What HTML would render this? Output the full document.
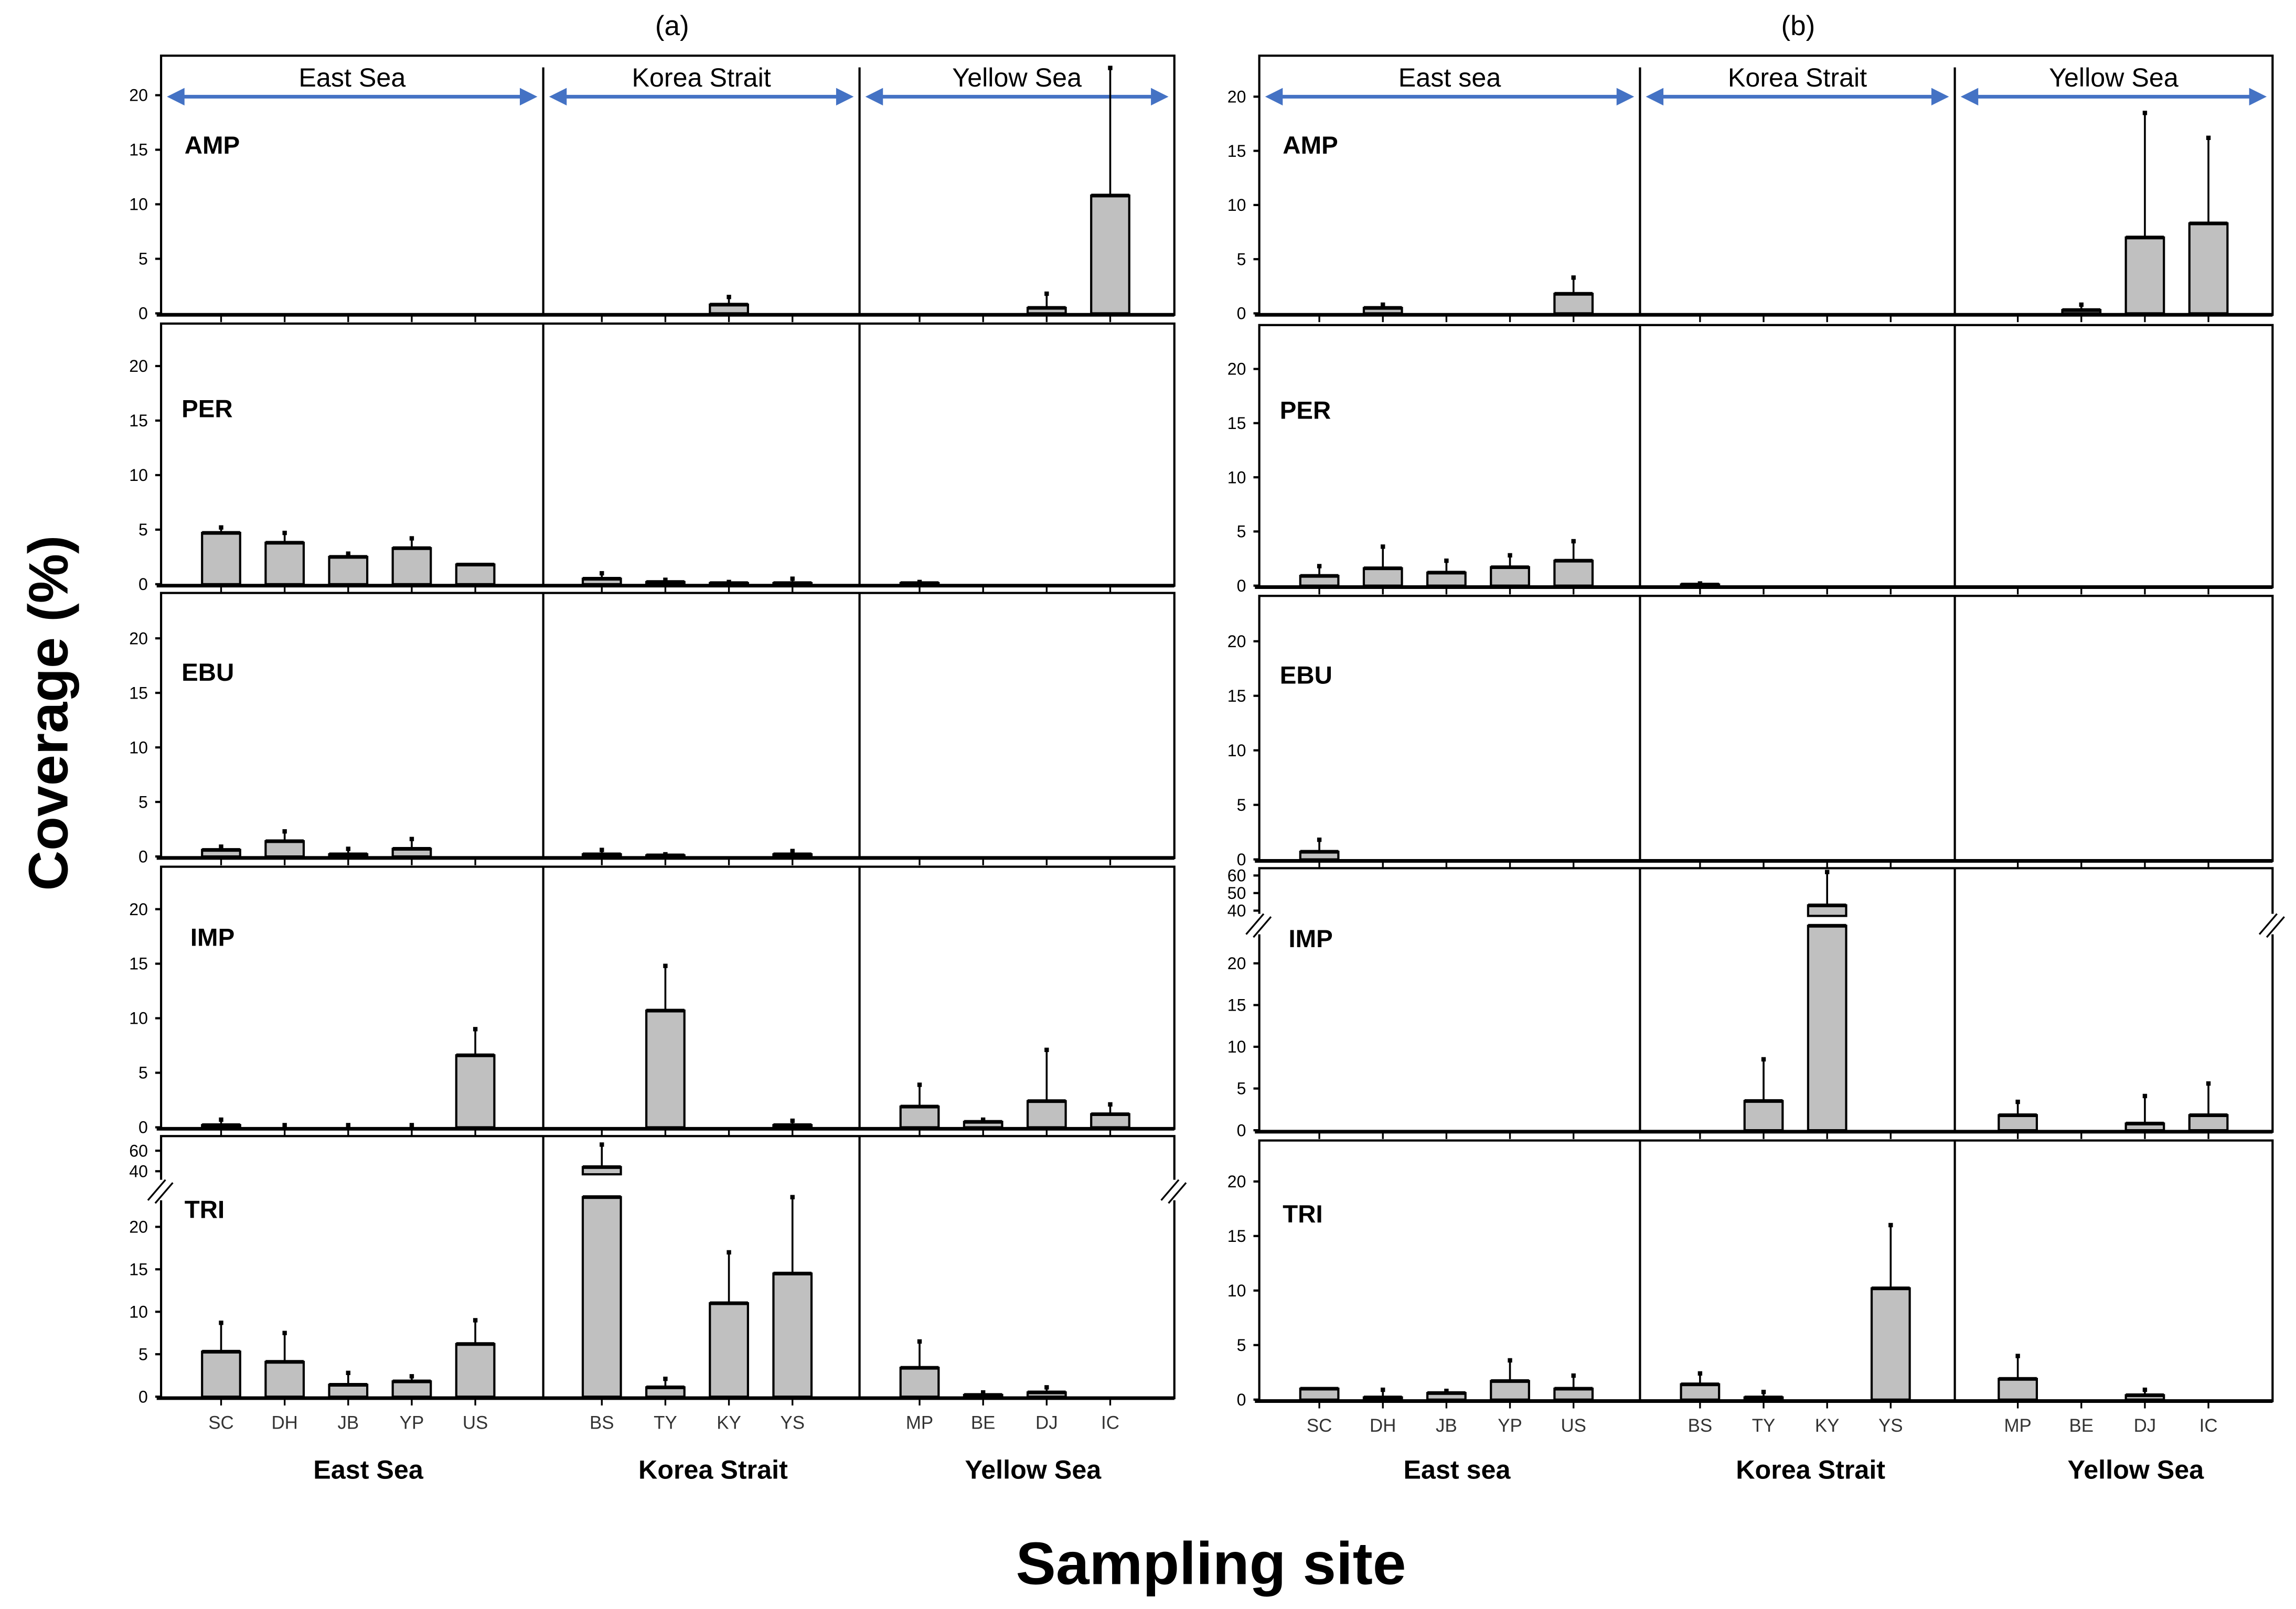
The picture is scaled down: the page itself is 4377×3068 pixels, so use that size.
<!DOCTYPE html>
<html><head><meta charset="utf-8">
<style>
html,body{margin:0;padding:0;background:#fff;}
svg{display:block;}
text{font-family:"Liberation Sans",sans-serif;}
</style></head>
<body>
<svg id="chart" width="4377" height="3068" viewBox="0 0 1568 1099" xmlns="http://www.w3.org/2000/svg">
<g id="static">
<text x="459" y="24" font-size="19" text-anchor="middle">(a)</text>
<text x="1228" y="24" font-size="19" text-anchor="middle">(b)</text>
<text x="0" y="0" font-size="38" font-weight="bold" text-anchor="middle" transform="translate(46,487) rotate(-90)">Coverage (%)</text>
<text x="827" y="1082" font-size="41" font-weight="bold" text-anchor="middle">Sampling site</text>
</g>
<g id="plot"></g>
</svg>
<script>
const categories = ["SC","DH","JB","YP","US","BS","TY","KY","YS","MP","BE","DJ","IC"];
const regionsA = ["East Sea","Korea Strait","Yellow Sea"];
const regionsB = ["East sea","Korea Strait","Yellow Sea"];
const rowNames = ["AMP","PER","EBU","IMP","TRI"];
const yTicks = [0,5,10,15,20];
const breakTicksA = [40,60];
const breakTicksB = [40,50,60];
// panel (a) values and upper error
const aAMP = [0,0,0,0,0, 0,0,0.8,0, 0,0,0.5,10.8];
const aAMPerr = [0,0,0,0,0, 0,0,1.5,0, 0,0,1.8,22.5];
const aPER = [4.7,3.8,2.5,3.3,1.8, 0.5,0.2,0.1,0.1, 0.1,0,0,0];
const aPERerr = [5.2,4.7,2.8,4.2,1.8, 1.0,0.4,0.2,0.5, 0.2,0,0,0];
const aEBU = [0.6,1.4,0.2,0.7,0, 0.2,0.1,0,0.2, 0,0,0,0];
const aEBUerr = [0.9,2.3,0.7,1.6,0, 0.6,0.2,0,0.5, 0,0,0,0];
const aIMP = [0.2,0,0,0,6.6, 0,10.7,0,0.2, 1.9,0.5,2.4,1.2];
const aIMPerr = [0.7,0.2,0.2,0.2,9.0, 0,14.8,0,0.6, 3.9,0.7,7.1,2.1];
const aTRI = [5.3,4.1,1.4,1.8,6.2, 44,1.1,11.0,14.5, 3.4,0.2,0.5,0];
const aTRIerr = [8.7,7.5,2.8,2.4,9.0, 66,2.1,17.0,23.5, 6.5,0.5,1.1,0];
// panel (b)
const bAMP = [0,0.5,0,0,1.8, 0,0,0,0, 0,0.3,7.0,8.3];
const bAMPerr = [0,0.8,0,0,3.3, 0,0,0,0, 0,0.8,18.5,16.2];
const bPER = [0.9,1.6,1.2,1.7,2.3, 0.1,0,0,0, 0,0,0,0];
const bPERerr = [1.8,3.6,2.3,2.8,4.1, 0.2,0,0,0, 0,0,0,0];
const bEBU = [0.7,0,0,0,0, 0,0,0,0, 0,0,0,0];
const bEBUerr = [1.8,0,0,0,0, 0,0,0,0, 0,0,0,0];
const bIMP = [0,0,0,0,0, 0,3.5,43,0, 1.8,0,0.8,1.8];
const bIMPerr = [0,0,0,0,0, 0,8.5,62,0, 3.4,0,4.1,5.6];
const bTRI = [1.0,0.2,0.6,1.7,1.0, 1.4,0.2,0,10.2, 1.9,0,0.4,0];
const bTRIerr = [1.0,0.9,0.8,3.6,2.2, 2.4,0.7,0,16.0, 4.0,0,0.9,0];

const NS="http://www.w3.org/2000/svg";
const plot=document.getElementById('plot');
function mk(tag,attrs,parent){const e=document.createElementNS(NS,tag);for(const k in attrs)e.setAttribute(k,attrs[k]);(parent||plot).appendChild(e);return e;}

const panels=[
 {left:110,right:802,divs:[371,587],grpOff:[41,40,41],regions:regionsA,botOff:[11,8,11],
  rows:[{top:38,y0:214,y20:65,v:aAMP,e:aAMPerr},{top:221,y0:399,y20:250,v:aPER,e:aPERerr},
        {top:405,y0:585,y20:436,v:aEBU,e:aEBUerr},{top:592,y0:770,y20:621,v:aIMP,e:aIMPerr},
        {top:776,y0:954,y20:838,v:aTRI,e:aTRIerr,brk:{low:23.5,start:37,y40:800,ppu:0.7,ticks:breakTicksA}}],
  botY:1010,name:'a'},
 {left:860,right:1552,divs:[1120,1335],grpOff:[41,41,43],regions:regionsB,botOff:[5,9,15],
  rows:[{top:38,y0:214,y20:66,v:bAMP,e:bAMPerr},{top:222,y0:400,y20:252,v:bPER,e:bPERerr},
        {top:407,y0:587,y20:438,v:bEBU,e:bEBUerr},{top:593,y0:772,y20:658,v:bIMP,e:bIMPerr,brk:{low:24.5,start:37,y40:622,ppu:1.2,ticks:breakTicksB}},
        {top:779,y0:956,y20:807,v:bTRI,e:bTRIerr}],
  botY:1010,name:'b'}
];

panels.forEach(p=>{
 const gl=[p.left,p.divs[0],p.divs[1]];
 const gr=[p.divs[0],p.divs[1],p.right];
 const counts=[5,4,4];
 const xs=[];
 for(let g=0;g<3;g++)for(let k=0;k<counts[g];k++){xs.push(gl[g]+p.grpOff[g]+k*43.4);}
 for(let g=0;g<3;g++){
  const a=gl[g]+4,b=gr[g]-4,y=66;
  const ln=mk('line',{x1:a+8,y1:y,x2:b-8,y2:y,stroke:'#4472c4','stroke-width':2.5});
  
  
  mk('polygon',{points:`${a},${y} ${a+12},${y-6} ${a+12},${y+6}`,fill:'#4472c4'});
  mk('polygon',{points:`${b},${y} ${b-12},${y-6} ${b-12},${y+6}`,fill:'#4472c4'});
  const t=mk('text',{x:(gl[g]+gr[g])/2,y:59,'font-size':18,'text-anchor':'middle'});
  t.textContent=p.regions[g];
  
  
  const t2=mk('text',{x:(gl[g]+gr[g])/2+p.botOff[g],y:p.botY,'font-size':18,'font-weight':'bold','text-anchor':'middle'});
  t2.textContent=p.regions[g];
  
  
 }
 p.rows.forEach((r,ri)=>{
  const ppu=(r.y0-r.y20)/20;
  const br=r.brk;
  const Y=v=>{
   if(!br||v<=br.low) return r.y0-v*ppu;
   return br.y40-(v-40)*br.ppu;
  };
  const bottom=r.y0+1;
  const box=mk('rect',{x:p.left,y:r.top,width:p.right-p.left,height:bottom-r.top,fill:'none',stroke:'#000','stroke-width':1.5});
  
  
  mk('line',{x1:p.left-3,y1:r.y0+1,x2:p.right,y2:r.y0+1,stroke:'#000','stroke-width':2.5});
  p.divs.forEach(d=>mk('line',{x1:d,y1:ri==0?r.top+8:r.top,x2:d,y2:bottom,stroke:'#000','stroke-width':1.5}));
  const allT=yTicks.concat(br?br.ticks:[]);
  allT.forEach(tv=>{
   const yy=tv<=20?r.y0-tv*ppu:br.y40-(tv-40)*br.ppu;
   mk('line',{x1:p.left-4,y1:yy,x2:p.left,y2:yy,stroke:'#000','stroke-width':1.5});
   const t=mk('text',{x:p.left-9,y:yy+4,'font-size':11.5,'text-anchor':'end'});
   t.textContent=tv;
   
   
  });
  if(br){
   const yb=(Y(br.low)+br.y40)/2+6;
   [p.left,p.right].forEach(x=>{
    mk('rect',{x:x-5,y:yb-9,width:10,height:14,fill:'#fff'});
    mk('line',{x1:x-9,y1:yb+5,x2:x+3,y2:yb-9,stroke:'#000','stroke-width':1.2});
    mk('line',{x1:x-4,y1:yb+7,x2:x+8,y2:yb-7,stroke:'#000','stroke-width':1.2});
   });
  }
  xs.forEach(x=>mk('line',{x1:x,y1:r.y0+1,x2:x,y2:r.y0+6,stroke:'#000','stroke-width':1.2}));
  const rl=mk('text',{x:p.left+(ri==0||ri==4?16:14)+(ri==3?6:0),y:r.top+(ri==0?67:ri==1?64:ri==2?60:ri==3?54:56),'font-size':17,'font-weight':'bold'});
  rl.textContent=rowNames[ri];
  
  
  r.v.forEach((v,i)=>{
   const e=r.e[i];const x=xs[i];const w=26;
   if(e>v){
    const el=mk('line',{x1:x,y1:Y(e),x2:x,y2:Y(v),stroke:'#000','stroke-width':1.3});
    
    
    mk('rect',{x:x-1.5,y:Y(e)-1.5,width:3,height:3,fill:'#000'});
   }
   if(v<=0) return;
   if(br&&v>br.low){
    const b1=mk('rect',{x:x-w/2,y:Y(br.low),width:w,height:r.y0-Y(br.low),fill:'#c0c0c0',stroke:'#000','stroke-width':1.5});
    
    
    mk('rect',{x:x-w/2,y:Y(v),width:w,height:Y(br.start)-Y(v),fill:'#c0c0c0',stroke:'#000','stroke-width':1.5});
    mk('line',{x1:x-w/2,y1:Y(br.low),x2:x+w/2,y2:Y(br.low),stroke:'#000','stroke-width':2.5});
    mk('line',{x1:x-w/2,y1:Y(v),x2:x+w/2,y2:Y(v),stroke:'#000','stroke-width':2.5});
   } else {
    const b=mk('rect',{x:x-w/2,y:Y(v),width:w,height:r.y0-Y(v),fill:'#c0c0c0',stroke:'#000','stroke-width':1.5});
    
    
    mk('line',{x1:x-w/2,y1:Y(v),x2:x+w/2,y2:Y(v),stroke:'#000','stroke-width':2.5});
   }
  });
  if(ri==4){
   xs.forEach((x,i)=>{
    const t=mk('text',{x:x,y:r.y0+22,'font-size':12.5,'text-anchor':'middle',fill:'#333'});
    t.textContent=categories[i];
    
    
   });
  }
 });
});
</script>
</body></html>
